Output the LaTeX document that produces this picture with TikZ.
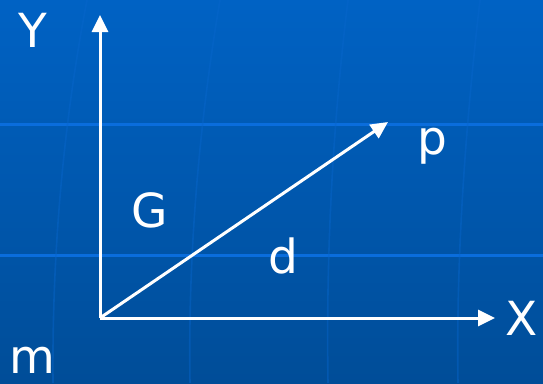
\documentclass[tikz,border=0pt]{standalone}
\usepackage{fontspec}
\setmainfont{DejaVu Sans}
\usetikzlibrary{arrows.meta}
\definecolor{bgtop}{HTML}{0062C4}
\definecolor{bgbot}{HTML}{004D98}
\definecolor{gridh}{HTML}{0A6DDC}
\definecolor{gridv}{HTML}{0866CC}
\tikzset{
  axis/.style={white, line width=3pt, -{Triangle[length=17pt,width=16pt]}},
  lbl/.style={text=white, font=\fontsize{47}{50}\selectfont, inner sep=0pt, anchor=center},
  hline/.style={gridh, line width=3pt},
  vline/.style={gridv, line width=1.6pt, opacity=0.45}
}
\begin{document}
\begin{tikzpicture}[x=1pt,y=-1pt]
\useasboundingbox (0,0) rectangle (543,383);
\shade[top color=bgtop, bottom color=bgbot] (0,0) rectangle (543,383);
% faint grid
\draw[hline] (0,124) -- (543,124);
\draw[hline] (0,255) -- (543,255);
\draw[vline] (87,0) .. controls (62,130) and (52,260) .. (53,383);
\draw[vline] (220,0) .. controls (198,130) and (188,260) .. (190,383);
\draw[vline] (348,0) .. controls (332,130) and (326,260) .. (328,383);
\draw[vline] (480,0) .. controls (465,130) and (456,260) .. (458,383);
% axes
\coordinate (O) at (100,318);
\coordinate (Ytip) at (100,15);
\coordinate (Xtip) at (495,318);
\coordinate (Ptip) at (388,122);
\draw[axis] (O) -- (Ytip);
\draw[axis] (O) -- (Xtip);
\draw[axis] (O) -- (Ptip);
% labels
\node[lbl] (Y) at (33,30) {Y};
\node[lbl] (X) at (522,318) {X};
\node[lbl] (G) at (150,210) {G};
\node[lbl] (d) at (283,256) {d};
\node[lbl] (p) at (432,146) {p};
\node[lbl] (m) at (32,360) {m};
\end{tikzpicture}
\end{document}
